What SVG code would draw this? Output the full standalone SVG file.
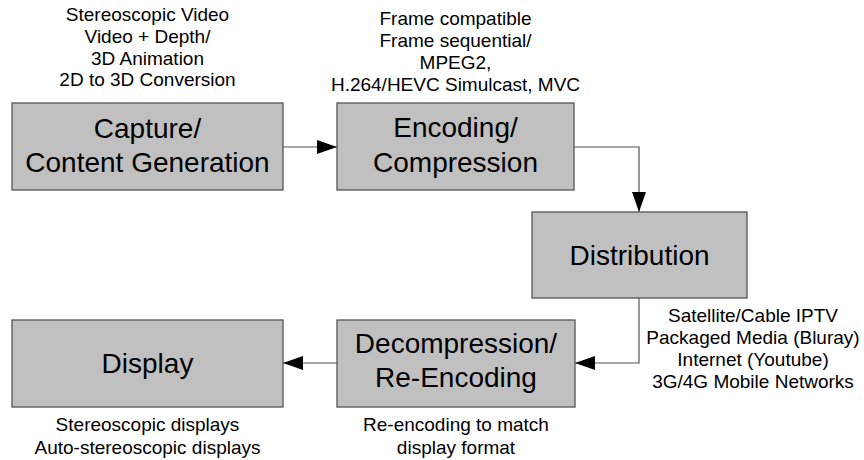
<svg xmlns="http://www.w3.org/2000/svg" width="864" height="460" viewBox="0 0 864 460">
  <style>
    .box { fill: #c0c0c0; stroke: #555555; stroke-width: 1.3; }
    .big { font-family: "Liberation Sans", Arial, sans-serif; font-size: 28px; fill: #000000; text-anchor: middle; }
    .note { font-family: "Liberation Sans", Arial, sans-serif; font-size: 19px; fill: #000000; text-anchor: middle; }
    .wire { fill: none; stroke: #555555; stroke-width: 1.2; }
  </style>
  <defs>
    <marker id="arrow" markerWidth="20" markerHeight="14" refX="20" refY="7" orient="auto" markerUnits="userSpaceOnUse">
      <path d="M0,0 L20,7 L0,14 Z" fill="#000000"/>
    </marker>
  </defs>
  <rect width="864" height="460" fill="#ffffff"/>

  <g id="connectors">
    <path class="wire" d="M283,147 H337" marker-end="url(#arrow)"/>
    <path class="wire" d="M574,147 H639 V212" marker-end="url(#arrow)"/>
    <path class="wire" d="M639,298 V363 H575" marker-end="url(#arrow)"/>
    <path class="wire" d="M337,363 H283" marker-end="url(#arrow)"/>
  </g>

  <g id="capture">
    <rect class="box" x="12" y="103" width="271" height="87"/>
    <text class="big" x="147.5" y="138">Capture/</text>
    <text class="big" x="147.5" y="172">Content Generation</text>
    <text class="note" x="147.5" y="21">Stereoscopic Video</text>
    <text class="note" x="147.5" y="43">Video + Depth/</text>
    <text class="note" x="147.5" y="64.5">3D Animation</text>
    <text class="note" x="147.5" y="86">2D to 3D Conversion</text>
  </g>

  <g id="encoding">
    <rect class="box" x="337" y="103" width="237" height="87"/>
    <text class="big" x="455.5" y="137">Encoding/</text>
    <text class="big" x="455.5" y="171.5">Compression</text>
    <text class="note" x="455.5" y="24.5">Frame compatible</text>
    <text class="note" x="455.5" y="46.5">Frame sequential/</text>
    <text class="note" x="455.5" y="68.5">MPEG2,</text>
    <text class="note" x="455.5" y="90.5">H.264/HEVC Simulcast, MVC</text>
  </g>

  <g id="distribution">
    <rect class="box" x="532" y="212" width="215" height="86"/>
    <text class="big" x="639.5" y="265">Distribution</text>
    <text class="note" x="753" y="322">Satellite/Cable IPTV</text>
    <text class="note" x="753" y="344">Packaged Media (Bluray)</text>
    <text class="note" x="753" y="366">Internet (Youtube)</text>
    <text class="note" x="753" y="388">3G/4G Mobile Networks</text>
  </g>

  <g id="decompression">
    <rect class="box" x="337" y="320" width="238" height="87"/>
    <text class="big" x="456" y="353">Decompression/</text>
    <text class="big" x="456" y="387">Re-Encoding</text>
    <text class="note" x="456" y="431">Re-encoding to match</text>
    <text class="note" x="456" y="454">display format</text>
  </g>

  <g id="display">
    <rect class="box" x="12" y="320" width="271" height="87"/>
    <text class="big" x="147.5" y="373">Display</text>
    <text class="note" x="147.5" y="431">Stereoscopic displays</text>
    <text class="note" x="147.5" y="454">Auto-stereoscopic displays</text>
  </g>
</svg>
